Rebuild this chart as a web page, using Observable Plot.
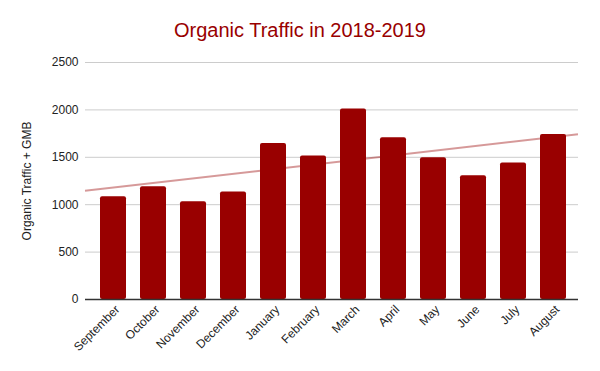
<!DOCTYPE html>
<html>
<head>
<meta charset="utf-8">
<script src="https://cdn.jsdelivr.net/npm/d3@7"></script>
<script src="https://cdn.jsdelivr.net/npm/@observablehq/plot@0.6"></script>
<style>
  body { margin: 0; background: #fff; font-family: "Liberation Sans", Arial, sans-serif; }
  #wrap { width: 600px; height: 371px; overflow: hidden; }
  #title { height: 28px; padding-top: 20px; line-height: 20px; font-size: 20px; color: #990000; text-align: center; }
</style>
</head>
<body>
<div id="wrap">
  <div id="title">Organic Traffic in 2018-2019</div>
  <div id="chart"></div>
</div>
<script>
const months = ["September","October","November","December","January","February","March","April","May","June","July","August"];
const traffic = [1085, 1190, 1030, 1135, 1645, 1515, 2010, 1705, 1495, 1305, 1440, 1740];
const yTicks = [0, 500, 1000, 1500, 2000, 2500];
const yLabel = "Organic Traffic + GMB";

const data = months.map((m, i) => ({month: m, value: traffic[i], i}));

// least-squares trendline over the month index
const mx = d3.mean(data, d => d.i), my = d3.mean(data, d => d.value);
const slope = d3.sum(data, d => (d.i - mx) * (d.value - my)) / d3.sum(data, d => (d.i - mx) ** 2);
const intercept = my - slope * mx;

const trendMark = Plot.line([0, 1], {
  x: () => months[0], y: () => 0,
  render(index, scales, values, dim) {
    const xs = scales.x, ys = scales.y;
    const bw = xs.bandwidth ? xs.bandwidth() : 0;
    const c0 = xs(months[0]) + bw / 2;
    const step = xs(months[1]) - xs(months[0]);
    const left = dim.marginLeft, right = dim.width - dim.marginRight;
    const pts = [left, right].map(px => {
      const t = (px - c0) / step;
      return [px, ys(intercept + slope * t)];
    });
    return d3.create("svg:path")
      .attr("d", d3.line()(pts))
      .attr("fill", "none")
      .attr("stroke", "#990000")
      .attr("stroke-opacity", 0.4)
      .attr("stroke-width", 2)
      .node();
  }
});

const chart = Plot.plot({
  width: 600,
  height: 323,
  marginTop: 14,
  marginBottom: 72,
  marginLeft: 85,
  marginRight: 22,
  style: {fontFamily: "Liberation Sans, Arial, sans-serif", fontSize: "12px", color: "#222"},
  x: {domain: months, paddingInner: 0.353, paddingOuter: 0.1765, insetLeft: 7, insetRight: 4},
  y: {domain: [0, 2500], ticks: yTicks},
  marks: [
    Plot.gridY(yTicks, {stroke: "#cccccc", strokeOpacity: 1, strokeWidth: 1}),
    trendMark,
    Plot.barY(data, {x: "month", y: "value", fill: "#990000", rx: 2}),
    Plot.ruleY([0], {stroke: "#333333", strokeWidth: 1.3}),
    Plot.axisY(yTicks, {tickSize: 0, tickPadding: 7, label: null, tickFormat: d => String(d), fill: "#222", fontSize: 12}),
    Plot.axisX({tickSize: 0, tickPadding: 8, tickRotate: -45, label: null, dx: 4, fill: "#222", fontSize: 12}),
    Plot.text([yLabel], {frameAnchor: "left", textAnchor: "middle", rotate: -90, dx: -58, fill: "#222", fontSize: 12})
  ]
});
document.getElementById("chart").appendChild(chart);
</script>
</body>
</html>
